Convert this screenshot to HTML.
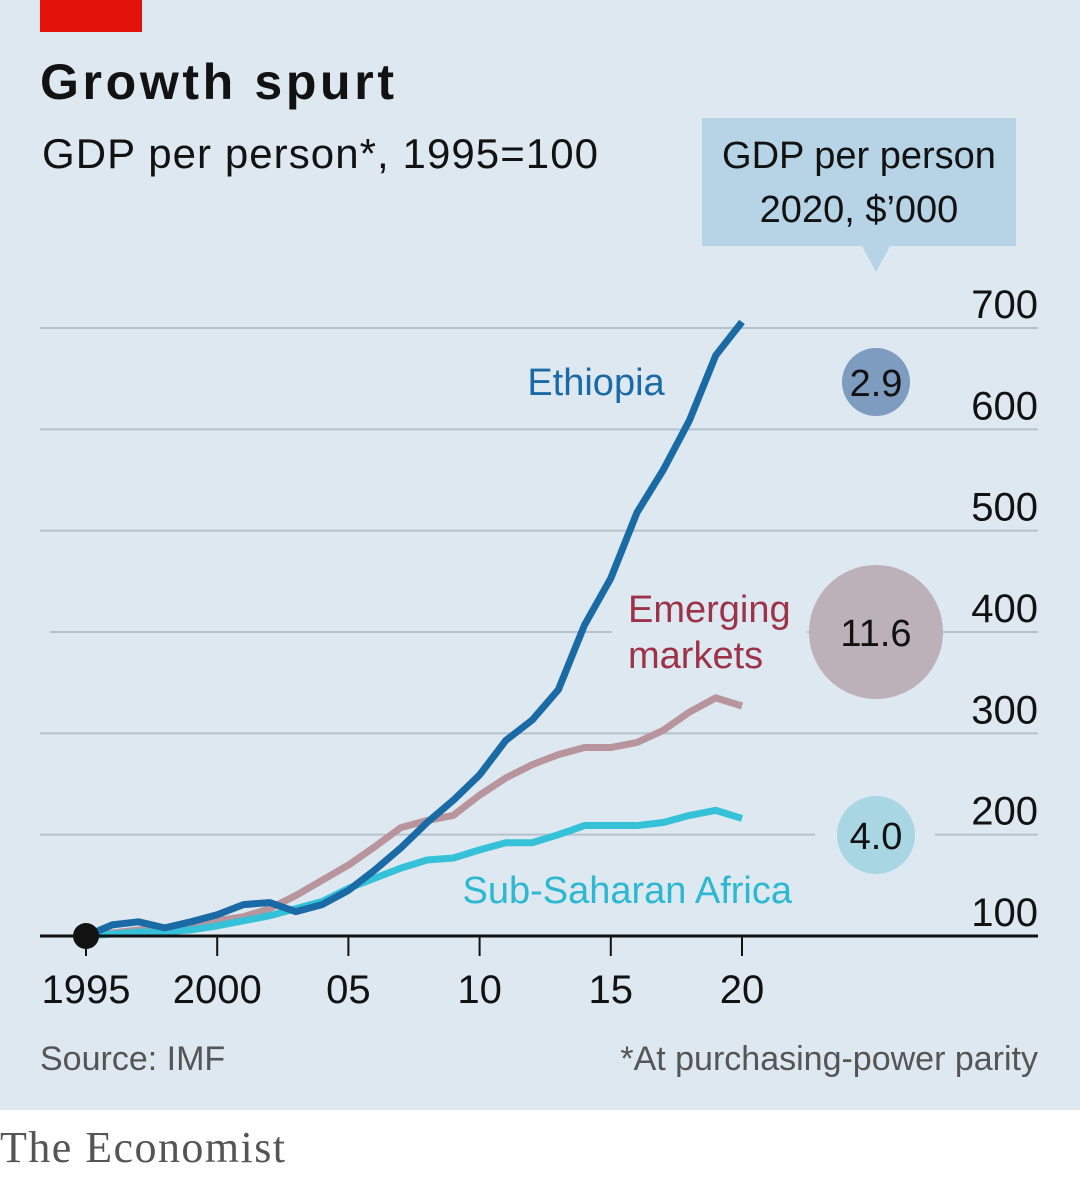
<!DOCTYPE html>
<html><head><meta charset="utf-8"><style>
body{margin:0;width:1080px;height:1176px;overflow:hidden;background:#fff;font-family:"Liberation Sans",sans-serif}
</style></head><body>
<svg width="1080" height="1176" xmlns="http://www.w3.org/2000/svg" id="chart">
<rect x="0" y="0" width="1080" height="1110" fill="#dde8f0"/>
<rect x="40" y="0" width="102" height="32" fill="#e3120b"/>
<text x="40" y="99" font-size="50" font-weight="bold" fill="#121212" textLength="354">Growth spurt</text>
<text x="42" y="168" font-size="42" fill="#121212" textLength="556">GDP per person*, 1995=100</text>
<g>
<rect x="702" y="118" width="314" height="128" fill="#b6d4e6"/>
<polygon points="862,246 890,246 876,272" fill="#b6d4e6"/>
<text x="859" y="168" font-size="38" text-anchor="middle" fill="#121212">GDP per person</text>
<text x="859" y="222" font-size="38" text-anchor="middle" fill="#121212">2020, $’000</text>
</g>
<g id="grid"></g>
<rect x="612" y="600" width="195" height="80" fill="#dde8f0"/>
<rect x="815" y="815" width="120" height="40" fill="#dde8f0"/>
<g id="lines"></g><g id="labels"></g>
<g><circle cx="876" cy="382" r="34" fill="#7e9bc0"/><text x="876" y="396" font-size="38" text-anchor="middle" fill="#121212">2.9</text></g>
<g><circle cx="876" cy="632" r="67" fill="#bdb1b9"/><text x="876" y="646" font-size="38" text-anchor="middle" fill="#121212">11.6</text></g>
<g><circle cx="876" cy="835" r="39" fill="#a9d6e3"/><text x="876" y="849" font-size="38" text-anchor="middle" fill="#121212">4.0</text></g>
<text x="596" y="395" font-size="38" text-anchor="middle" fill="#1a6aa6">Ethiopia</text>
<text x="628" y="622" font-size="38" fill="#9c3349">Emerging</text>
<text x="628" y="668" font-size="38" fill="#9c3349">markets</text>
<text x="792" y="903" font-size="38" text-anchor="end" fill="#2bb8d0">Sub-Saharan Africa</text>
<text x="40" y="1070" font-size="34" fill="#555">Source: IMF</text>
<text x="1038" y="1070" font-size="34" text-anchor="end" fill="#555">*At purchasing-power parity</text>
<text x="0" y="1162" font-size="44" font-family="Liberation Serif,serif" fill="#555" textLength="285">The Economist</text>
</svg>
<script>
const years=[1995,1996,1997,1998,1999,2000,2001,2002,2003,2004,2005,2006,2007,2008,2009,2010,2011,2012,2013,2014,2015,2016,2017,2018,2019,2020];
const ethiopia=[100,111,114,108,114,121,131,133,124,131,145,165,187,212,234,259,293,313,343,407,453,518,560,609,673,706];
const emerging=[100,103,106,107,110,115,119,127,140,155,170,188,207,214,219,239,256,269,279,286,286,291,303,321,335,327];
const ssa=[100,102,104,104,106,110,115,120,127,134,147,157,167,175,177,185,192,192,200,209,209,209,212,219,224,216];
const yTicks=[100,200,300,400,500,600,700];
const xTicks=[1995,2000,2005,2010,2015,2020];
const xTickLabels=["1995","2000","05","10","15","20"];
const NS="http://www.w3.org/2000/svg";
const xs=y=>86+(y-1995)*26.24;
const ys=v=>936-(v-100)*1.0133;
function mk(t,a,p){const e=document.createElementNS(NS,t);for(const k in a)e.setAttribute(k,a[k]);document.getElementById(p).appendChild(e);return e;}
yTicks.forEach(v=>{
 if(v>100){const g=mk('line',{x1:v===400?50:40,x2:1038,y1:ys(v),y2:ys(v),stroke:'#b5c1cb','stroke-width':2},'grid');
 
 }
 const t=mk('text',{x:1038,y:ys(v)-10,'font-size':40,'text-anchor':'end',fill:'#121212'},'labels');t.textContent=v;
 
 
});
xTicks.forEach((y,i)=>{
 const l=mk('line',{x1:xs(y),x2:xs(y),y1:936,y2:956,stroke:'#121212','stroke-width':2},'labels');
 
 
 const t=mk('text',{x:xs(y),y:1003,'font-size':40,'text-anchor':'middle',fill:'#121212'},'labels');t.textContent=xTickLabels[i];
 
 
});
const ax=mk('line',{x1:40,x2:1038,y1:936,y2:936,stroke:'#121212','stroke-width':3},'labels');


function line(data,color,name){const p=mk('polyline',{points:data.map((v,i)=>xs(years[i])+','+ys(v)).join(' '),fill:'none',stroke:color,'stroke-width':7,'stroke-linejoin':'round'},'lines');
 
 }
line(emerging,'#b8959c','line-emerging-markets');
line(ssa,'#35c2d8','line-sub-saharan-africa');
line(ethiopia,'#1a6aa6','line-ethiopia');
const d=mk('circle',{cx:xs(1995),cy:936,r:13,fill:'#121212'},'lines');


</script>
</body></html>
